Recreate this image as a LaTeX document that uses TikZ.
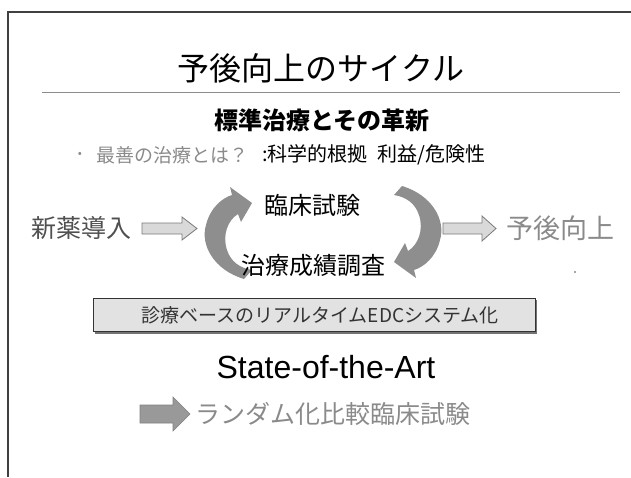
\documentclass[tikz,border=0pt]{standalone}
\usepackage{fontspec}
\newfontfamily\jp{Noto Sans CJK JP}
\newfontfamily\arialish{Liberation Sans}
\definecolor{cycgray}{HTML}{8E8E8E}
\definecolor{txtgray}{HTML}{8A8A8A}
\definecolor{darktxt}{HTML}{505050}
\definecolor{lightfill}{HTML}{D9D9D9}
\definecolor{boxfill}{HTML}{E2E2E2}
\definecolor{edgegray}{HTML}{7A7A7A}
\tikzset{
  jptext/.style={inner sep=0pt, font=\jp},
  cycarrow/.style={fill=cycgray, draw=none},
  blockarrow/.style={fill=lightfill, draw=edgegray, line width=0.8pt, line join=miter},
}
\begin{document}
\begin{tikzpicture}[x=1pt,y=-1pt]
\useasboundingbox (0,0) rectangle (631,477);
% frame
\draw[line width=1.2pt, color=black!75] (631,12) -- (8,12) -- (8,477);
% title and rule
\node[jptext, font=\jp\fontsize{32}{36}\selectfont] (title) at (321,68) {予後向上のサイクル};
\draw[line width=0.8pt, color=black!45] (42,92) -- (620,92);
\node[jptext, font=\jp\bfseries\fontsize{24}{28}\selectfont] (sub) at (322,120) {標準治療とその革新};
% bullet line
\node[jptext, font=\jp\fontsize{12}{14}\selectfont, text=txtgray] (bul) at (80,155) {•};
\node[jptext, anchor=west, font=\jp\fontsize{19}{22}\selectfont, text=txtgray] (best) at (96,155) {最善の治療とは？};
\node[jptext, anchor=west, font=\jp\fontsize{20}{24}\selectfont] (sci) at (262,155) {:科学的根拠\hspace{10pt}利益/危険性};
% cycle arrows
\path[cycarrow] (244,279) .. controls (214,270) and (200,245) .. (206,225)
  .. controls (210,208) and (222,198) .. (232,195)
  -- (230,187) -- (252,203) -- (241,222) -- (238,214)
  .. controls (228,220) and (222,235) .. (227,250)
  .. controls (231,262) and (240,268) .. (252,270) -- cycle;
\begin{scope}[rotate around={180:(323,232.5)}]
\path[cycarrow] (244,279) .. controls (214,270) and (200,245) .. (206,225)
  .. controls (210,208) and (222,198) .. (232,195)
  -- (230,187) -- (252,203) -- (241,222) -- (238,214)
  .. controls (228,220) and (222,235) .. (227,250)
  .. controls (231,262) and (240,268) .. (252,270) -- cycle;
\end{scope}
\node[jptext, font=\jp\fontsize{24}{28}\selectfont] (trial) at (312,205) {臨床試験};
\node[jptext, font=\jp\fontsize{24}{28}\selectfont] (survey) at (313,265) {治療成績調査};
% inputs / outputs
\node[jptext, font=\jp\fontsize{25}{30}\selectfont, text=darktxt] (newdrug) at (81,228) {新薬導入};
\draw[blockarrow] (142,223) -- (182,223) -- (182,217) -- (197,228.5) -- (182,240) -- (182,234) -- (142,234) -- cycle;
\draw[blockarrow] (443,223) -- (482,223) -- (482,216) -- (496,228.5) -- (482,241) -- (482,234) -- (443,234) -- cycle;
\node[jptext, font=\jp\fontsize{27}{32}\selectfont, text=txtgray] (prog) at (560,228) {予後向上};
\fill[black!70] (575,272) circle (0.9);
% EDC box
\fill[black!55] (95,300) rectangle (537,334);
\draw[fill=boxfill, draw=black!80, line width=0.7pt] (93,298) rectangle (535,331);
\node[jptext, font=\jp\fontsize{19}{22}\selectfont, text=black!80] (edc) at (320,315) {診療ベースのリアルタイムEDCシステム化};
% State of the art
\node[inner sep=0pt, font=\arialish\fontsize{32}{38}\selectfont] (sota) at (326,367) {State-of-the-Art};
\draw[fill=black!40, draw=black!50, line width=0.6pt] (140,405) -- (173,405) -- (173,397) -- (190,414) -- (173,431) -- (173,423) -- (140,423) -- cycle;
\node[jptext, anchor=west, font=\jp\fontsize{25}{30}\selectfont, text=txtgray] (rct) at (195,414) {ランダム化比較臨床試験};
\end{tikzpicture}
\end{document}
